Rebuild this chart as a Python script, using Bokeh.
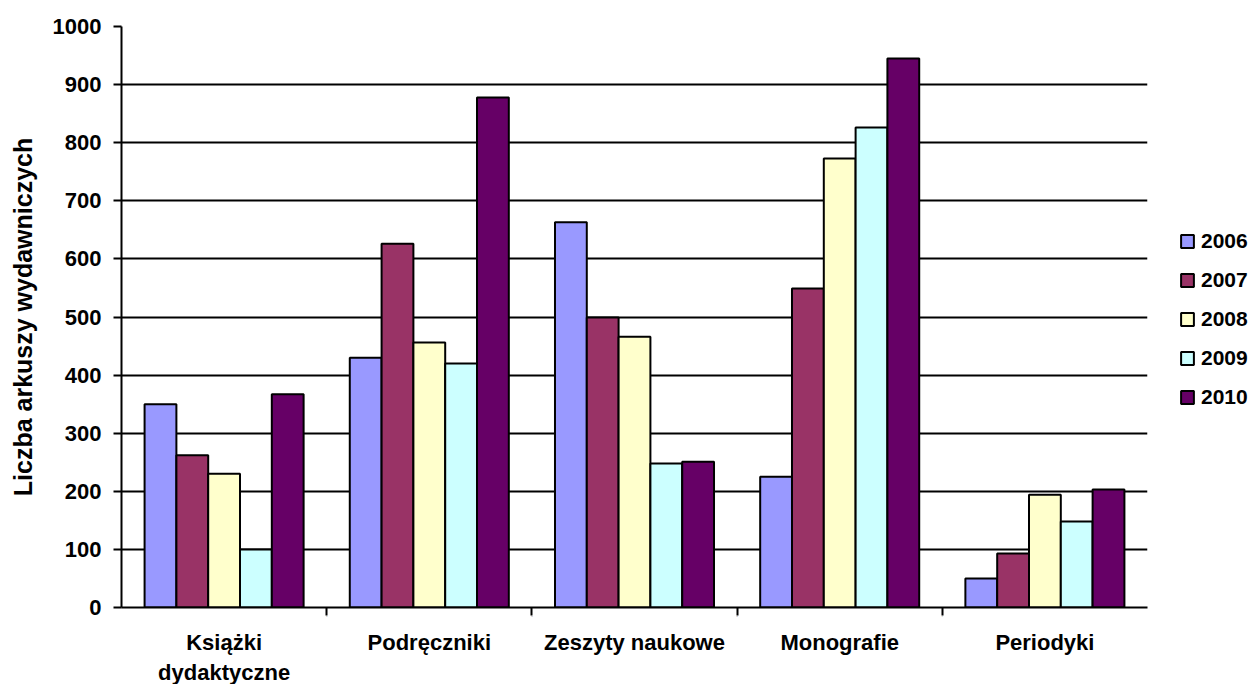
from bokeh.plotting import figure
from bokeh.models import (FactorRange, Range1d, CategoricalAxis, FixedTicker,
                          Legend, LegendItem, ColumnDataSource)
from bokeh.transform import dodge
from bokeh.embed import file_html
from bokeh.resources import INLINE

# ---- data -------------------------------------------------------------
categories = ["Książki\ndydaktyczne", "Podręczniki", "Zeszyty naukowe", "Monografie", "Periodyki"]
years = ["2006", "2007", "2008", "2009", "2010"]
v2006 = [350, 430, 663, 225, 50]
v2007 = [262, 626, 499, 549, 93]
v2008 = [230, 456, 466, 773, 194]
v2009 = [100, 420, 248, 826, 148]
v2010 = [367, 878, 251, 945, 203]
colors = ["#9999FF", "#993366", "#FFFFCC", "#CCFFFF", "#660066"]
y_ticks = [0, 100, 200, 300, 400, 500, 600, 700, 800, 900, 1000]
y_label = "Liczba arkuszy wydawniczych"

FONT = "Liberation Sans"

data = {"cat": categories}
for yr, vals in zip(years, [v2006, v2007, v2008, v2009, v2010]):
    data[yr] = vals
source = ColumnDataSource(data)

p = figure(x_range=FactorRange(*categories), y_range=Range1d(y_ticks[0], y_ticks[-1]),
           frame_width=1026, frame_height=581,
           min_border_left=121, min_border_top=26, min_border_right=101, min_border_bottom=0,
           output_backend="svg", toolbar_location=None, x_axis_location=None,
           outline_line_color=None, background_fill_color="white", border_fill_color="white")

bar_w = 0.155
n = len(years)
renderers = []
for i, (yr, col) in enumerate(zip(years, colors)):
    off = (i - (n - 1) / 2) * bar_w
    r = p.vbar(x=dodge("cat", off, range=p.x_range), top=yr, width=bar_w, source=source,
               fill_color=col, line_color="black", line_width=2)
    renderers.append(r)

# y axis
ya = p.yaxis[0]
ya.ticker = FixedTicker(ticks=y_ticks)
ya.axis_label = y_label
ya.axis_label_text_font = FONT
ya.axis_label_text_font_size = "25px"
ya.axis_label_text_font_style = "bold"
ya.axis_label_text_color = "black"
ya.axis_label_standoff = 13
ya.major_label_text_font = FONT
ya.major_label_text_font_size = "22px"
ya.major_label_text_font_style = "bold"
ya.major_label_text_color = "black"
ya.major_label_standoff = 12
ya.major_tick_out = 8
ya.major_tick_in = 0
ya.major_tick_line_width = 2
ya.major_tick_line_color = "black"
ya.minor_tick_line_color = None
ya.axis_line_width = 2
ya.axis_line_color = "black"

p.ygrid.ticker = FixedTicker(ticks=y_ticks[1:-1])
p.ygrid.grid_line_color = "black"
p.ygrid.grid_line_width = 2
p.xgrid.grid_line_color = None

# x axis: tick marks at the category boundaries (a second factor range whose
# factor centres fall on the boundaries of the main one)
edge_factors = ["e%d" % i for i in range(len(categories) + 1)]
p.extra_x_ranges = {"edges": FactorRange(factors=edge_factors, range_padding=-0.5,
                                         range_padding_units="absolute")}
edge_axis = CategoricalAxis(x_range_name="edges",
                            major_label_overrides={f: "" for f in edge_factors},
                            major_tick_out=8, major_tick_in=0, major_tick_line_width=2,
                            major_tick_line_color="black",
                            axis_line_width=2, axis_line_color="black",
                            minor_tick_line_color=None, major_label_standoff=0,
                            major_label_text_font_size="1px")
p.add_layout(edge_axis, "below")

cat_axis = CategoricalAxis(axis_line_color=None, major_tick_line_color=None,
                           minor_tick_line_color=None, major_tick_out=0, major_tick_in=0,
                           major_label_standoff=10, major_label_text_font=FONT,
                           major_label_text_font_size="22px", major_label_text_font_style="bold",
                           major_label_text_color="black", major_label_text_line_height=1.2)
p.add_layout(cat_axis, "below")

legend = Legend(items=[LegendItem(label=yr, renderers=[r]) for yr, r in zip(years, renderers)],
                location=(32, 198), glyph_width=16, glyph_height=16,
                label_text_font=FONT, label_text_font_size="21px", label_text_font_style="bold",
                label_text_color="black", label_standoff=6, spacing=15, padding=0, margin=0,
                border_line_color=None, background_fill_alpha=0)
p.add_layout(legend, "right")

open("out.html", "w").write(file_html(p, INLINE))
